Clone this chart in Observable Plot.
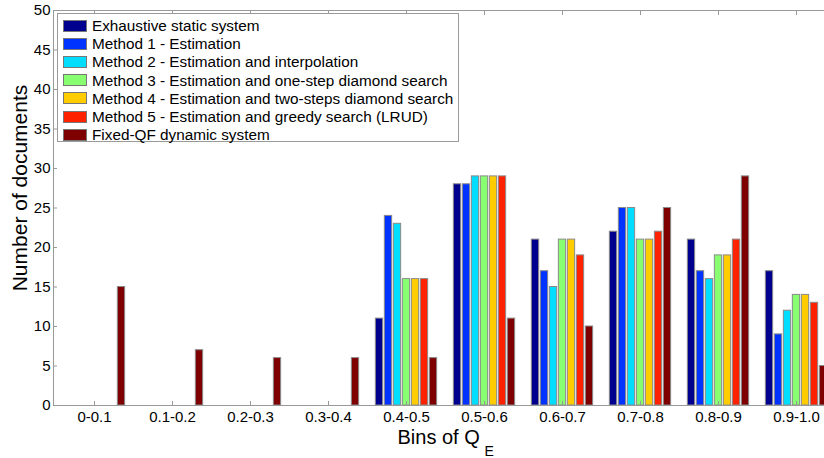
<!DOCTYPE html>
<html><head><meta charset="utf-8">
<script src="https://cdn.jsdelivr.net/npm/d3@7"></script>
<script src="https://cdn.jsdelivr.net/npm/@observablehq/plot@0.6"></script>
<style>
body{margin:0;background:#fff;overflow:hidden;font-family:"Liberation Sans",Arial,sans-serif}
#wrap{position:relative;width:824px;height:458px;overflow:hidden}
#wrap svg{display:block;max-width:none}
#legend{position:absolute;left:57px;top:13px;width:402px;height:129px;border:1px solid #9a9a9a;background:#fff;box-sizing:border-box}
.row{position:absolute;left:5px;height:13px;display:flex;align-items:center}
.sw{width:24px;height:12px;border:1px solid #777;box-sizing:border-box;flex:none}
.lab{margin-left:5px;font-size:15.3px;line-height:15px;color:#000;white-space:nowrap}
</style></head>
<body><div id="wrap"><div id="legend"></div></div>
<script>
const bins = ["0-0.1","0.1-0.2","0.2-0.3","0.3-0.4","0.4-0.5","0.5-0.6","0.6-0.7","0.7-0.8","0.8-0.9","0.9-1.0"];
const seriesNames = [
  "Exhaustive static system",
  "Method 1 - Estimation",
  "Method 2 - Estimation and interpolation",
  "Method 3 - Estimation and one-step diamond search",
  "Method 4 - Estimation and two-steps diamond search",
  "Method 5 - Estimation and greedy search (LRUD)",
  "Fixed-QF dynamic system"
];
const seriesColors = ["#00008f","#0033ff","#00ddff","#88ff70","#ffcc00","#ff2200","#7f0000"];
const exhaustive = [0,0,0,0,11,28,21,22,21,17];
const method1    = [0,0,0,0,24,28,17,25,17,9];
const method2    = [0,0,0,0,23,29,15,25,16,12];
const method3    = [0,0,0,0,16,29,21,21,19,14];
const method4    = [0,0,0,0,16,29,21,21,19,14];
const method5    = [0,0,0,0,16,29,19,22,21,13];
const fixedQF    = [15,7,6,6,6,11,10,25,29,5];
const seriesValues = [exhaustive, method1, method2, method3, method4, method5, fixedQF];
const yTicks = [0,5,10,15,20,25,30,35,40,45,50];

const barStep = 9, barWidth = 7.6, bandW = 78.3;
const bars = seriesValues.map((vals, s) =>
  Plot.barY(bins.map((b, i) => ({bin: b, value: vals[i]})).filter(d => d.value > 0), {
    x: "bin", y: "value", fill: seriesColors[s], stroke: "#8a8a8a", strokeWidth: 1,
    insetLeft: (bandW - barWidth) / 2, insetRight: (bandW - barWidth) / 2,
    dx: (s - 3) * barStep
  })
);

const chart = Plot.plot({
  width: 837, height: 458,
  marginLeft: 53, marginRight: 1, marginTop: 10, marginBottom: 53,
  style: {fontFamily: "Liberation Sans, Arial, sans-serif", background: "#fff", maxWidth: "none"},
  x: {type: "band", domain: bins, padding: 0},
  y: {domain: [0, 50]},
  marks: [
    ...bars,
    Plot.frame({stroke: "#999"}),
    Plot.axisY({ticks: yTicks, tickSize: -4, tickPadding: 7, fontSize: 15, label: null, stroke: "#999", fill: "#000"}),
    Plot.axisX({anchor: "bottom", tickSize: -4, tickPadding: 10, fontSize: 15, label: null, stroke: "#999", fill: "#000"}),
    Plot.axisX({anchor: "top", tickSize: -4, tickFormat: () => "", label: null, stroke: "#999"}),
    Plot.text(["Number of documents"], {frameAnchor: "left", dx: -33, dy: -20, rotate: -90, textAnchor: "middle", fontSize: 21, fill: "#000"}),
    Plot.text(["Bins of Q"], {frameAnchor: "bottom-left", dx: 344, dy: 38, textAnchor: "start", fontSize: 20, fill: "#000"}),
    Plot.text(["E"], {frameAnchor: "bottom-left", dx: 431, dy: 50, textAnchor: "start", fontSize: 14, fill: "#000"})
  ]
});
document.getElementById("wrap").prepend(chart);

const legend = document.getElementById("legend");
seriesNames.forEach((name, k) => {
  const row = document.createElement("div");
  row.className = "row";
  row.style.top = (5 + 18.2 * k) + "px";
  const sw = document.createElement("div");
  sw.className = "sw"; sw.style.background = seriesColors[k];
  const lab = document.createElement("span");
  lab.className = "lab"; lab.textContent = name;
  row.append(sw, lab);
  legend.append(row);
});
</script>
</body></html>
